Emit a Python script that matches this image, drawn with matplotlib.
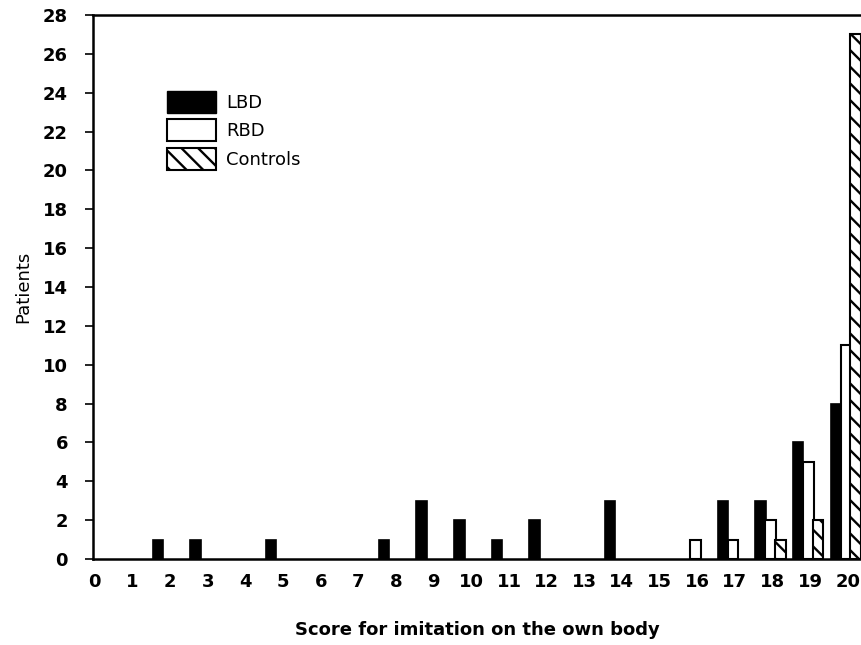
import matplotlib
matplotlib.use("Agg")
import matplotlib.pyplot as plt
import numpy as np
from matplotlib.patches import Patch

plt.rcParams['hatch.linewidth'] = 1.7

scores = list(range(0, 21))
lbd_scores = [2, 3, 5, 8, 9, 10, 11, 12, 14, 17, 18, 19, 20]
lbd_counts = [1, 1, 1, 1, 3, 2, 1, 2, 3, 3, 3, 6, 8]
rbd_scores = [16, 17, 18, 19, 20]
rbd_counts = [1, 1, 2, 5, 11]
ctrl_scores = [18, 19, 20]
ctrl_counts = [1, 2, 27]
y_ticks = list(range(0, 29, 2))

HATCH = '\\\\'

fig = plt.figure(figsize=(8.61, 6.45), dpi=100)
ax = fig.add_axes([0.108, 0.1333, 0.892, 0.8434])

w = 0.28
ax.bar(np.array(lbd_scores) - 0.32, lbd_counts, width=w, color='black', edgecolor='black', linewidth=1.2)
ax.bar(np.array(rbd_scores) - 0.05, rbd_counts, width=w, color='white', edgecolor='black', linewidth=1.5)
ax.bar(np.array(ctrl_scores) + 0.21, ctrl_counts, width=w, color='white', edgecolor='black', linewidth=1.5, hatch=HATCH)

ax.set_xlim(-0.05, 20.35)
ax.set_ylim(0, 28)
ax.set_xticks(scores)
ax.set_xticklabels([str(s) for s in scores], fontsize=13, fontweight='bold')
ax.set_yticks(y_ticks)
ax.set_yticklabels([str(t) for t in y_ticks], fontsize=13, fontweight='bold')
ax.tick_params(axis='x', length=0, pad=10)
ax.tick_params(axis='y', length=6, width=1.2, direction='out', pad=12)
ax.spines['right'].set_visible(False)
for s in ['left', 'bottom', 'top']:
    ax.spines[s].set_linewidth(1.8)

ax.set_xlabel('Score for imitation on the own body', fontsize=13, fontweight='bold', labelpad=22)
ax.set_ylabel('Patients', fontsize=13, labelpad=8)

handles = [Patch(facecolor='black', edgecolor='black', label='LBD'),
           Patch(facecolor='white', edgecolor='black', linewidth=1.5, label='RBD'),
           Patch(facecolor='white', edgecolor='black', linewidth=1.5, hatch=HATCH, label='Controls')]
leg = ax.legend(handles=handles, loc='upper left', bbox_to_anchor=(0.075, 0.89), frameon=False,
                fontsize=13, handlelength=2.7, handleheight=1.5, handletextpad=0.6, labelspacing=0.35)

fig.savefig('out.png', dpi=100)
